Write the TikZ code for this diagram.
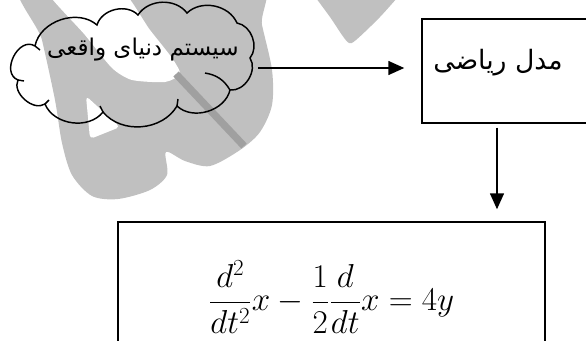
\documentclass[tikz,border=0pt]{standalone}
\usepackage{fontspec}
\newfontfamily\arabicfont[Script=Arabic]{DejaVu Sans}
\TeXXeTstate=1
\usetikzlibrary{arrows.meta}
\definecolor{wmgray}{RGB}{192,192,192}
\definecolor{wmdark}{RGB}{160,160,160}
\begin{document}
\begin{tikzpicture}[x=0.75pt,y=-0.75pt,
  lines/.style={line width=1.1pt, draw=black},
  arr/.style={lines, -{Triangle[length=12pt,width=10.5pt]}},
  boxstyle/.style={lines, rectangle, inner sep=0pt},
  cloudtext/.style={font=\arabicfont\fontsize{17.3}{21}\selectfont, inner sep=0pt},
  boxtext/.style={font=\arabicfont\fontsize{20}{24}\selectfont, inner sep=0pt}]
\clip (0,0) rectangle (586,340);
% watermark
\fill[wmgray] plot[smooth cycle, tension=0.5] coordinates {(25,-30) (250,-30) (262,25) (272,70) (272,105) (260,132) (240,150) (210,166) (185,161) (166,152) (167,175) (150,190) (118,199) (92,196) (72,175) (62,143) (55,100) (42,40)};
\fill[white] plot[smooth cycle, tension=0.4] coordinates {(40,-20) (112,-20) (150,30) (172,58) (180,74) (165,82) (132,80) (112,68) (85,35)};
\fill[white, rounded corners=3pt] (86,96) -- (120,127) -- (90,139) -- cycle;
\draw[wmdark, line width=5.5pt] (176,74) -- (244,146);
\fill[wmgray] plot[smooth, tension=0.5] coordinates {(310,-10) (330,17) (342,35) (349,43) (356,40) (380,17) (404,-10)} -- cycle;
% cloud
\draw[lines] (35,46) to[bend left=60] (97,25) to[bend left=60] (138,15) to[bend left=55] (187,13)
  to[bend left=55] (237,23) to[bend left=60] (250,58) to[bend left=65] (230,90)
  to[bend left=60] (177,106) to[bend left=55] (103,112) to[bend left=60] (45,104)
  to[bend left=75] (18,80) to[bend left=95, looseness=1.3] (35,46);
\draw[lines] (35,46) -- (40,50);
\draw[lines] (230,90) to[bend right=25] (205,73);
\draw[lines] (177,106) -- (178,99);
\draw[lines] (103,112) -- (100,106);
\draw[lines] (45,104) -- (49,100);
\draw[lines] (18,80) -- (24,81);
\node[cloudtext] (cloudtxt) at (143,50) {\beginR سیستم دنیای واقعی\endR};
\coordinate (cloudR) at (258,68);
% boxes
\node[boxstyle, minimum width=133.5pt, minimum height=78pt] (rbox) at (511,71) {};
\node[boxtext] (rtxt) at (498,63) {\beginR مدل ریاضی\endR};
\node[boxstyle, minimum width=320.25pt, minimum height=112.5pt, font=\fontsize{23}{27}\selectfont] (ebox) at (331.5,297) {\raisebox{2.25pt}{$\displaystyle \frac{d^2}{dt^2}x-\frac{1}{2}\frac{d}{dt}x=4y$}};
% arrows
\coordinate (ax) at (497,0);
\draw[arr] (cloudR) -- ([xshift=-12.75pt]rbox.west |- cloudR);
\draw[arr] ([yshift=-3pt]rbox.south -| ax) -- ([yshift=9pt]ebox.north -| ax);
\end{tikzpicture}
\end{document}
